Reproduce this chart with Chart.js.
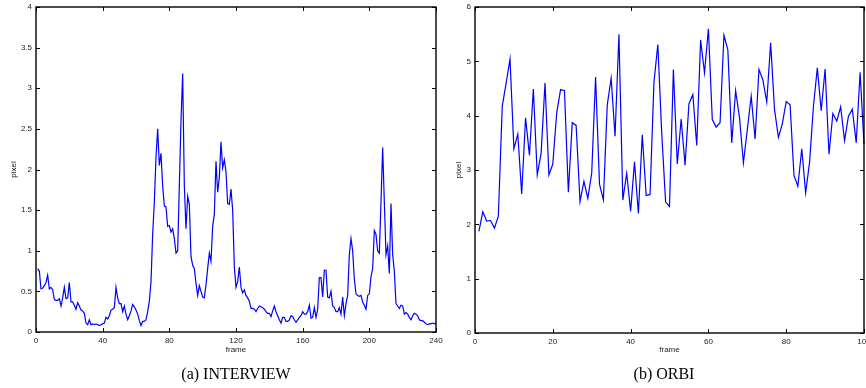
<!DOCTYPE html>
<html>
<head>
<meta charset="utf-8">
<script src="https://cdn.jsdelivr.net/npm/chart.js@4.4.1/dist/chart.umd.min.js"></script>
<style>
  html, body { margin: 0; padding: 0; background: #fff; }
  body { width: 866px; height: 388px; position: relative; overflow: hidden; }
  .wrap { position: absolute; top: 0; }
  .cap { position: absolute; top: 365px; font-family: "Liberation Serif", "DejaVu Serif", serif; font-size: 16px; line-height: 18px; color: #000; white-space: nowrap; transform: translateX(-50%); }
</style>
</head>
<body>
<div class="wrap" style="left:0px;width:450px;height:388px;"><canvas id="c1"></canvas></div>
<div class="wrap" style="left:440px;width:426px;height:388px;"><canvas id="c2"></canvas></div>
<div class="cap" style="left:236px;">(a) INTERVIEW</div>
<div class="cap" style="left:664px;">(b) ORBI</div>
<script>
// ---- Data ----
const interviewValues = [
  0.78,0.75,0.53,0.54,0.57,0.61,0.70,0.53,0.55,0.52,
  0.40,0.39,0.39,0.41,0.32,0.42,0.55,0.41,0.42,0.61,
  0.37,0.37,0.33,0.28,0.36,0.32,0.27,0.26,0.23,0.11,
  0.09,0.15,0.09,0.10,0.09,0.10,0.09,0.08,0.09,0.10,
  0.11,0.18,0.16,0.20,0.27,0.28,0.30,0.55,0.42,0.35,
  0.35,0.25,0.32,0.22,0.15,0.20,0.26,0.34,0.31,0.27,
  0.22,0.14,0.08,0.13,0.13,0.15,0.25,0.38,0.62,1.20,
  1.60,2.15,2.50,2.05,2.20,1.80,1.55,1.54,1.30,1.31,
  1.23,1.27,1.15,0.97,1.00,1.80,2.60,3.18,1.80,1.27,
  1.67,1.57,0.93,0.82,0.78,0.60,0.45,0.57,0.50,0.43,
  0.42,0.58,0.78,0.97,0.87,1.30,1.45,2.10,1.72,1.90,
  2.34,2.02,2.12,1.97,1.58,1.57,1.76,1.50,0.80,0.55,
  0.62,0.80,0.55,0.48,0.52,0.45,0.42,0.38,0.29,0.29,
  0.28,0.25,0.29,0.32,0.31,0.30,0.28,0.25,0.23,0.23,
  0.19,0.26,0.32,0.25,0.20,0.15,0.11,0.18,0.18,0.13,
  0.13,0.15,0.20,0.19,0.15,0.12,0.15,0.18,0.20,0.25,
  0.22,0.22,0.25,0.33,0.17,0.18,0.30,0.18,0.28,0.67,
  0.67,0.43,0.76,0.76,0.43,0.42,0.50,0.32,0.30,0.25,
  0.25,0.30,0.22,0.43,0.20,0.35,0.45,0.95,1.15,1.00,
  0.65,0.47,0.45,0.44,0.45,0.37,0.33,0.28,0.45,0.47,
  0.68,0.78,1.25,1.20,1.00,0.97,1.60,2.27,1.60,0.95,
  1.06,0.72,1.58,0.95,0.75,0.35,0.32,0.29,0.33,0.32,
  0.22,0.24,0.22,0.18,0.15,0.20,0.23,0.22,0.20,0.15,
  0.14,0.14,0.12,0.10,0.09,0.10,0.10,0.11,0.10,0.11
];
const orbiValues = [
  1.87,2.23,2.06,2.07,1.93,2.15,4.17,4.60,5.04,3.39,
  3.66,2.56,3.96,3.27,4.49,2.91,3.31,4.60,2.91,3.11,
  4.05,4.48,4.46,2.59,3.87,3.82,2.42,2.79,2.48,2.94,
  4.71,2.74,2.45,4.20,4.69,3.62,5.50,2.45,2.94,2.24,
  3.15,2.20,3.65,2.53,2.55,4.61,5.31,3.68,2.41,2.33,
  4.85,3.11,3.94,3.09,4.22,4.39,3.45,5.39,4.79,5.60,
  3.93,3.79,3.87,5.48,5.21,3.50,4.46,3.96,3.13,3.74,
  4.36,3.57,4.85,4.66,4.25,5.34,4.11,3.60,3.85,4.26,
  4.20,2.90,2.70,3.39,2.58,3.14,4.17,4.88,4.09,4.86,
  3.29,4.04,3.90,4.16,3.54,3.99,4.12,3.50,4.80,3.47
];
const interviewXTicks = [0, 40, 80, 120, 160, 200, 240];
const interviewYTicks = [0, 0.5, 1, 1.5, 2, 2.5, 3, 3.5, 4];
const orbiXTicks = [0, 20, 40, 60, 80, 100];
const orbiYTicks = [0, 1, 2, 3, 4, 5, 6];
const xTitle = 'frame';
const yTitle = 'pixel';

// ---- Helpers ----
const tickFont = { family: '"Liberation Sans", Arial, sans-serif', size: 8 };
const tickColor = '#222';

const boxPlugin = {
  id: 'matlabBox',
  afterDraw(chart) {
    const { ctx, chartArea: a, scales } = chart;
    const xs = scales.x, ys = scales.y;
    const L = 4;
    ctx.save();
    ctx.strokeStyle = '#000';
    ctx.lineWidth = 1;
    ctx.beginPath();
    xs.ticks.forEach(t => {
      const px = Math.round(xs.getPixelForValue(t.value)) + 0.5;
      ctx.moveTo(px, a.bottom); ctx.lineTo(px, a.bottom - L);
      ctx.moveTo(px, a.top); ctx.lineTo(px, a.top + L);
    });
    ys.ticks.forEach(t => {
      const py = Math.round(ys.getPixelForValue(t.value)) + 0.5;
      ctx.moveTo(a.left, py); ctx.lineTo(a.left + L, py);
      ctx.moveTo(a.right, py); ctx.lineTo(a.right - L, py);
    });
    ctx.stroke();
    ctx.lineWidth = 1.4;
    ctx.strokeRect(a.left, a.top, a.right - a.left, a.bottom - a.top);
    ctx.restore();
  }
};

function makeChart(id, values, xTicks, yTicks, opts) {
  const points = values.map((v, i) => ({ x: i + 1, y: v }));
  return new Chart(document.getElementById(id), {
    type: 'line',
    data: { datasets: [{
      data: points,
      borderColor: '#0000ff',
      borderWidth: 1.2,
      pointRadius: 0,
      tension: 0,
      fill: false,
      clip: false
    }]},
    options: {
      responsive: true,
      maintainAspectRatio: false,
      animation: false,
      events: [],
      layout: { padding: { left: 0, right: opts.padRight, top: 7, bottom: 33 } },
      plugins: { legend: { display: false }, tooltip: { enabled: false } },
      scales: {
        x: {
          type: 'linear',
          min: xTicks[0], max: xTicks[xTicks.length - 1],
          afterBuildTicks: s => { s.ticks = xTicks.map(v => ({ value: v })); },
          afterFit: s => { s.height = opts.xAxisH; s.paddingLeft = 0; s.paddingRight = 0; },
          grid: { display: false, drawTicks: false },
          border: { display: false },
          ticks: { font: tickFont, color: tickColor, padding: 4, maxRotation: 0, autoSkip: false,
                   callback: v => String(v) },
          title: { display: true, text: xTitle, font: tickFont, color: tickColor, padding: { top: 0, bottom: 0 } }
        },
        y: {
          type: 'linear',
          min: yTicks[0], max: yTicks[yTicks.length - 1],
          afterBuildTicks: s => { s.ticks = yTicks.map(v => ({ value: v })); },
          afterFit: s => { s.width = opts.yAxisW; s.paddingTop = 0; s.paddingBottom = 0; },
          grid: { display: false, drawTicks: false },
          border: { display: false },
          ticks: { font: tickFont, color: tickColor, padding: 4, autoSkip: false,
                   callback: v => String(v) },
          title: { display: true, text: yTitle, font: tickFont, color: tickColor, padding: { top: opts.yTitlePad, bottom: 0 } }
        }
      }
    },
    plugins: [boxPlugin]
  });
}

makeChart('c1', interviewValues, interviewXTicks, interviewYTicks,
  { padRight: 14, xAxisH: 23, yAxisW: 36, yTitlePad: 9 });
makeChart('c2', orbiValues, orbiXTicks, orbiYTicks,
  { padRight: 2, xAxisH: 22, yAxisW: 35, yTitlePad: 14 });
</script>
</body>
</html>
